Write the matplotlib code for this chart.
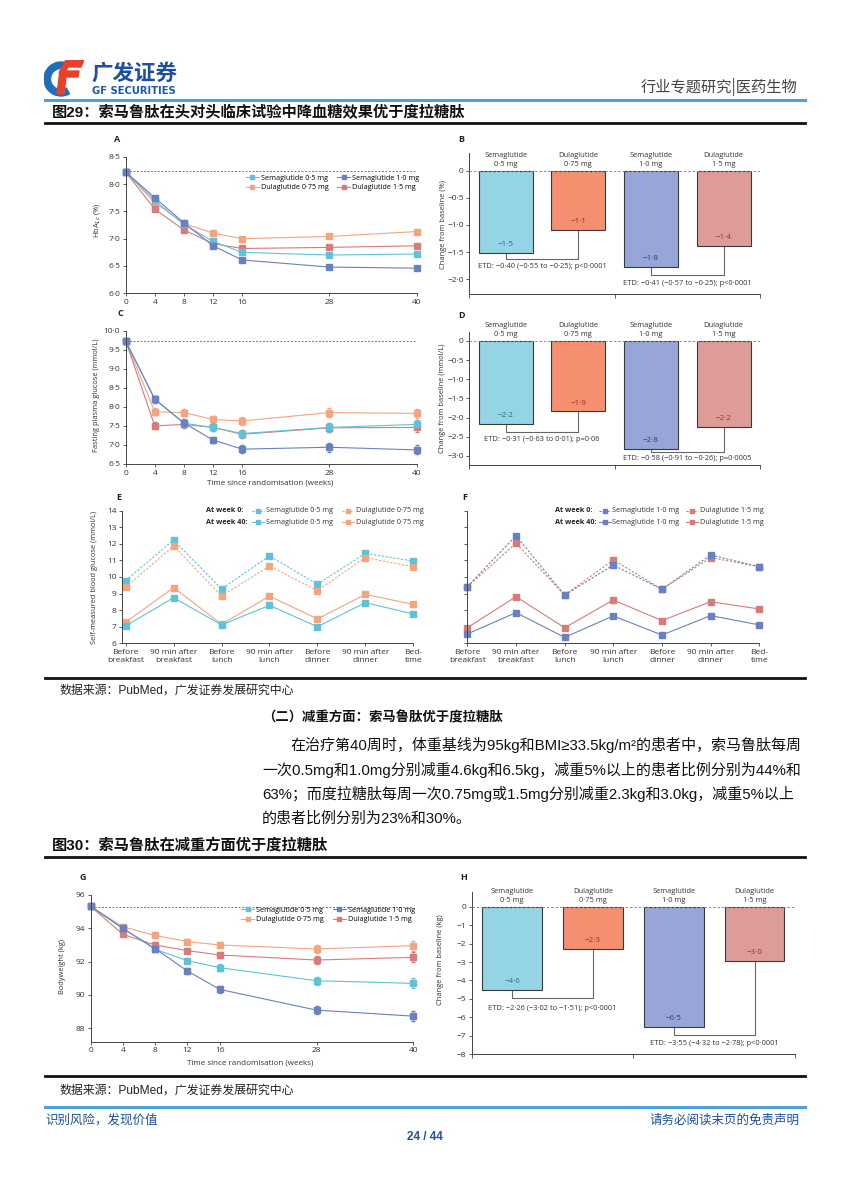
import matplotlib
matplotlib.use("Agg")
import matplotlib.pyplot as plt
from matplotlib.lines import Line2D
from matplotlib.patches import Wedge, Polygon
import numpy as np

W, H = 849, 1200

# ---------------- data ----------------
weeks = [0, 4, 8, 12, 16, 28, 40]

# A: HbA1c (%)
a_sema05 = [8.22, 7.70, 7.26, 6.95, 6.75, 6.70, 6.72]
a_dula075 = [8.22, 7.66, 7.28, 7.10, 7.00, 7.04, 7.13]
a_sema10 = [8.22, 7.75, 7.29, 6.87, 6.61, 6.48, 6.46]
a_dula15 = [8.22, 7.54, 7.16, 6.91, 6.82, 6.84, 6.87]
a_base = 8.24

# C: fasting plasma glucose (mmol/L)
c_sema05 = [9.73, 8.20, 7.57, 7.46, 7.30, 7.46, 7.54]
c_dula075 = [9.73, 7.87, 7.85, 7.67, 7.63, 7.85, 7.83]
c_sema10 = [9.73, 8.20, 7.58, 7.13, 6.89, 6.94, 6.87]
c_dula15 = [9.73, 7.50, 7.54, 7.46, 7.28, 7.45, 7.46]
c_err = [0, 0.09, 0.10, 0.09, 0.10, 0.12, 0.12]
c_base = 9.73

# G: bodyweight (kg)
g_sema05 = [95.3, 93.98, 92.73, 92.05, 91.63, 90.85, 90.69]
g_dula075 = [95.3, 94.08, 93.56, 93.19, 92.99, 92.75, 92.95]
g_sema10 = [95.3, 93.98, 92.77, 91.43, 90.33, 89.09, 88.73]
g_dula15 = [95.3, 93.62, 92.99, 92.65, 92.39, 92.09, 92.25]
g_err = [0, 0.12, 0.15, 0.16, 0.2, 0.25, 0.3]
g_base = 95.28

# bar panels
groups = ["Semaglutide\n0·5 mg", "Dulaglutide\n0·75 mg", "Semaglutide\n1·0 mg", "Dulaglutide\n1·5 mg"]
b_values = [-1.52, -1.10, -1.78, -1.38]
b_labels = ["−1·5", "−1·1", "−1·8", "−1·4"]
b_etd = ["ETD: −0·40 (−0·55 to −0·25); p<0·0001", "ETD: −0·41 (−0·57 to −0·25); p<0·0001"]

d_values = [-2.17, -1.84, -2.83, -2.25]
d_labels = ["−2·2", "−1·9", "−2·8", "−2·2"]
d_etd = ["ETD: −0·31 (−0·63 to 0·01); p=0·06", "ETD: −0·58 (−0·91 to −0·26); p=0·0005"]

h_values = [-4.52, -2.31, -6.50, -2.96]
h_labels = ["−4·6", "−2·3", "−6·5", "−3·0"]
h_etd = ["ETD: −2·26 (−3·02 to −1·51); p<0·0001", "ETD: −3·55 (−4·32 to −2·78); p<0·0001"]

# E / F: self-measured blood glucose profile
slots = ["Before\nbreakfast", "90 min after\nbreakfast", "Before\nlunch", "90 min after\nlunch",
         "Before\ndinner", "90 min after\ndinner", "Bed-\ntime"]
e_sema05_w0 = [9.78, 12.23, 9.28, 11.27, 9.56, 11.43, 10.96]
e_dula075_w0 = [9.38, 11.87, 8.85, 10.66, 9.18, 11.17, 10.62]
e_sema05_w40 = [7.05, 8.75, 7.11, 8.29, 7.00, 8.45, 7.77]
e_dula075_w40 = [7.27, 9.36, 7.15, 8.85, 7.47, 8.95, 8.35]
f_sema10_w0 = [9.42, 12.49, 8.91, 10.72, 9.26, 11.33, 10.62]
f_dula15_w0 = [9.42, 12.03, 8.91, 11.03, 9.26, 11.17, 10.62]
f_sema10_w40 = [6.56, 7.85, 6.36, 7.65, 6.50, 7.67, 7.11]
f_dula15_w40 = [6.94, 8.81, 6.94, 8.61, 7.37, 8.51, 8.07]

# ---------------- styles ----------------
SEMA05 = "#5fc2d9"
DULA075 = "#f4a47f"
SEMA10 = "#6b80c0"
DULA15 = "#d97a7b"
BAR_COLORS = ["#94d4e4", "#f68f6f", "#97a6d6", "#dd9c98"]
BAR_TXT = ["#2d6a7e", "#8e3320", "#2e3c73", "#8c3535"]
AXC = "#444444"
CJK = ["Noto Sans CJK SC", "DejaVu Sans"]
MIXED = ["Liberation Sans", "Noto Sans CJK SC", "DejaVu Sans"]

plt.rcParams["font.family"] = ["Open Sans", "DejaVu Sans"]

fig = plt.figure(figsize=(W / 100, H / 100), dpi=100)


def px_axes(x0, y0, x1, y1):
    return fig.add_axes([x0 / W, 1 - y1 / H, (x1 - x0) / W, (y1 - y0) / H])


def ftext(x, y, s, **kw):
    fig.text(x / W, 1 - y / H, s, **kw)


def hline(y, x0, x1, color, lw):
    fig.add_artist(Line2D([x0 / W, x1 / W], [1 - y / H, 1 - y / H], color=color, lw=lw))


def style_axes(ax):
    for s in ("top", "right"):
        ax.spines[s].set_visible(False)
    for s in ("left", "bottom"):
        ax.spines[s].set_color(AXC)
        ax.spines[s].set_linewidth(0.7)
    ax.tick_params(length=2.5, width=0.6, color=AXC, labelsize=6, labelcolor="#333", pad=1.5)
    ax.patch.set_visible(False)


def fmt(v, nd):
    if v == 0:
        return "0"
    s = f"{v:.{nd}f}".replace(".", "·")
    return s.replace("-", "−")


def line_panel(ax, series, ylim, yticks, nd, base, err=None, legend_anchor=None):
    for vals, color in series:
        ax.errorbar(weeks, vals, yerr=err, color=color, marker="s", ms=4, lw=0.8,
                    elinewidth=0.6, capsize=1.6, ecolor=color)
    for art in ax.get_children():
        art.set_clip_on(False)
    ax.axhline(base, color="#777", lw=0.7, ls=(0, (2, 1.6)), zorder=0)
    ax.set_xlim(0, 40)
    ax.set_ylim(*ylim)
    ax.set_xticks(weeks)
    ax.set_yticks(yticks)
    ax.set_yticklabels([f"{v:.{nd}f}".replace(".", "·") for v in yticks])
    style_axes(ax)
    if legend_anchor is not None:
        names = ["Semaglutide 0·5 mg", "Dulaglutide 0·75 mg", "Semaglutide 1·0 mg", "Dulaglutide 1·5 mg"]
        cols = [SEMA05, DULA075, SEMA10, DULA15]
        handles = [Line2D([], [], color=c, marker="s", ms=3.5, lw=0.8) for c in cols]
        ax.legend(handles, names, ncol=2, loc="upper right", bbox_to_anchor=legend_anchor,
                  frameon=False, fontsize=5.2, handlelength=1.8, handletextpad=0.3,
                  columnspacing=1.2, labelspacing=0.35, borderpad=0, borderaxespad=0)


def bar_panel(ax, values, labels, etd, ylim, yticks, nd, bracket_y, etd_y):
    x = np.arange(len(values))
    ax.bar(x, values, width=0.74, color=BAR_COLORS, edgecolor="#3a3a3a", lw=0.8, zorder=2)
    ax.axhline(0, color="#888", lw=0.7, ls=(0, (2.5, 2)), zorder=3)
    ax.set_xlim(-0.5, 3.5)
    ax.set_ylim(*ylim)
    ax.set_xticks([-0.5, 1.5, 3.5])
    ax.set_xticklabels([])
    ax.set_yticks(yticks)
    ax.set_yticklabels([fmt(v, nd) for v in yticks])
    for xi, v, lab, lc in zip(x, values, labels, BAR_TXT):
        ax.annotate(lab, (xi, v), xytext=(0, 6), textcoords="offset points",
                    ha="center", va="center", fontsize=5.8, color=lc)
    for xi, g in zip(x, groups):
        ax.annotate(g, (xi, 0), xytext=(0, 2), textcoords="offset points",
                    ha="center", va="bottom", fontsize=5.4, color="#333", linespacing=1.35)
    for k, (by, ty, t) in enumerate(zip(bracket_y, etd_y, etd)):
        i, j = 2 * k, 2 * k + 1
        ax.plot([i, i, j, j], [values[i], by, by, values[j]], color="#666", lw=0.8, zorder=1)
        ax.text((i + j) / 2, ty, t, ha="center", va="center", fontsize=5.4, color="#333")
    style_axes(ax)
    ax.tick_params(axis="x", length=3)


def glucose_panel(ax, series, xlim, show_labels):
    xs = np.arange(len(slots))
    for vals, color, ls in series:
        ax.plot(xs, vals, color=color, ls=ls, marker="s", ms=4.2, lw=0.8, clip_on=False)
    ax.set_xlim(*xlim)
    ax.set_ylim(6, 14)
    ax.set_yticks(range(6, 15))
    ax.set_xticks(xs)
    ax.set_xticklabels(slots, linespacing=1.3)
    if not show_labels:
        ax.set_yticklabels([])
    style_axes(ax)


def week_legend(x_title, x_h1, x_h2, entries):
    for ry, c1, l1, c2, l2, ls, title in entries:
        ftext(x_title, ry, title, fontsize=5.2, fontweight="bold", va="center", color="#222")
        for xh, c, lab in ((x_h1, c1, l1), (x_h2, c2, l2)):
            xx = [xh / W, (xh + 6) / W, (xh + 12) / W]
            yy = [1 - ry / H] * 3
            fig.add_artist(Line2D(xx, yy, color=c, ls=ls, lw=0.8, marker="s", ms=3.3, markevery=[1]))
            ftext(xh + 13.5, ry, lab, fontsize=5.2, va="center", color="#333")


def panel_letter(x, y, s):
    ftext(x, y, s, fontsize=6.5, fontweight="bold", va="center", ha="left", color="#222")


def ylab(x, y, s):
    ftext(x, y, s, fontsize=5.4, rotation=90, ha="center", va="center", color="#333")


# ---------------- page header ----------------
logo = px_axes(44, 60, 84, 97)
logo.set_xlim(0, 40)
logo.set_ylim(0, 37)
logo.axis("off")
logo.add_patch(Wedge((17, 18), 17, 75, 300, width=6.5, color="#1f6fb8"))
logo.add_patch(Polygon([[15, 24], [22, 37], [40, 37], [37, 30], [24, 30], [21, 24]], color="#e8402a"))
logo.add_patch(Polygon([[13, 3], [20, 3], [22, 20], [34, 20], [35, 26], [16, 26]], color="#e8402a"))

ftext(91, 73, "广发证券", fontsize=15.5, fontweight="bold", family=CJK, va="center", color="#1d4f9c")
ftext(92, 91, "GF SECURITIES", fontsize=7.2, fontweight="bold", family=["DejaVu Sans"], va="center", color="#1d5aa6")
ftext(797, 87, "行业专题研究|医药生物", fontsize=11, family=CJK, ha="right", va="center", color="#444")
hline(100, 45, 805, "#4da3d9", 2.2)
ftext(52, 112, "图29：索马鲁肽在头对头临床试验中降血糖效果优于度拉糖肽", fontsize=11,
      fontweight="bold", family=MIXED, va="center", color="#111")
hline(123, 45, 805, "#111", 2)

# ---------------- panel A ----------------
axA = px_axes(125.7, 156.7, 416.7, 293.3)
line_panel(axA, [(a_dula075, DULA075), (a_dula15, DULA15), (a_sema05, SEMA05), (a_sema10, SEMA10)],
           (6.0, 8.5), [6.0, 6.5, 7.0, 7.5, 8.0, 8.5], 1, a_base, legend_anchor=(1.01, 0.87))
panel_letter(114, 139, "A")
ylab(97, 220, "HbA$_{1c}$ (%)")

# ---------------- panel B ----------------
axB = px_axes(469.3, 153, 760, 294)
bar_panel(axB, b_values, b_labels, b_etd, (-2.275, 0.327), [0, -0.5, -1.0, -1.5, -2.0], 1,
          [-1.62, -1.93], [-1.76, -2.08])
panel_letter(458, 139, "B")
ylab(443, 225, "Change from baseline (%)")

# ---------------- panel C ----------------
axC = px_axes(125.7, 330.7, 416.7, 464)
line_panel(axC, [(c_dula075, DULA075), (c_dula15, DULA15), (c_sema05, SEMA05), (c_sema10, SEMA10)],
           (6.5, 10.0), [6.5, 7.0, 7.5, 8.0, 8.5, 9.0, 9.5, 10.0], 1, c_base, err=c_err)
panel_letter(118, 314, "C")
ylab(96, 395, "Fasting plasma glucose (mmol/L)")
ftext(270, 483, "Time since randomisation (weeks)", fontsize=5.8, ha="center", va="center", color="#333")

# ---------------- panel D ----------------
axD = px_axes(469.3, 331.7, 760, 465)
bar_panel(axD, d_values, d_labels, d_etd, (-3.24, 0.243), [0, -0.5, -1.0, -1.5, -2.0, -2.5, -3.0], 1,
          [-2.39, -2.91], [-2.58, -3.06])
panel_letter(458, 316, "D")
ylab(442, 398, "Change from baseline (mmol/L)")

# ---------------- panel E ----------------
axE = px_axes(122.3, 510.7, 413.3, 643.3)
glucose_panel(axE, [(e_sema05_w0, SEMA05, (0, (2, 1.5))), (e_dula075_w0, DULA075, (0, (2, 1.5))),
                    (e_dula075_w40, DULA075, "-"), (e_sema05_w40, SEMA05, "-")], (-0.07, 6.0), True)
panel_letter(116, 497, "E")
ylab(95, 577, "Self-measured blood glucose (mmol/L)")
week_legend(206, 252, 342, [
    (511, SEMA05, "Semaglutide 0·5 mg", DULA075, "Dulaglutide 0·75 mg", (0, (2, 1.5)), "At week 0:"),
    (522, SEMA05, "Semaglutide 0·5 mg", DULA075, "Dulaglutide 0·75 mg", "-", "At week 40:"),
])

# ---------------- panel F ----------------
axF = px_axes(467.3, 510.7, 759.3, 643.3)
glucose_panel(axF, [(f_dula15_w0, DULA15, (0, (2, 1.5))), (f_sema10_w0, SEMA10, (0, (2, 1.5))),
                    (f_dula15_w40, DULA15, "-"), (f_sema10_w40, SEMA10, "-")], (0, 6.0), False)
panel_letter(462, 498, "F")
week_legend(555, 599, 686, [
    (511, SEMA10, "Semaglutide 1·0 mg", DULA15, "Dulaglutide 1·5 mg", (0, (2, 1.5)), "At week 0:"),
    (522, SEMA10, "Semaglutide 1·0 mg", DULA15, "Dulaglutide 1·5 mg", "-", "At week 40:"),
])

hline(678, 45, 805, "#111", 2)
ftext(60, 691, "数据来源：PubMed，广发证券发展研究中心", fontsize=8.6, family=MIXED, va="center", color="#222")

# ---------------- text block ----------------
ftext(262, 717, "（二）减重方面：索马鲁肽优于度拉糖肽", fontsize=9.6, fontweight="bold", family=CJK,
      va="center", color="#111")
para = [
    (290, "在治疗第40周时，体重基线为95kg和BMI≥33.5kg/m²的患者中，索马鲁肽每周"),
    (262, "一次0.5mg和1.0mg分别减重4.6kg和6.5kg，减重5%以上的患者比例分别为44%和"),
    (262, "63%；而度拉糖肽每周一次0.75mg或1.5mg分别减重2.3kg和3.0kg，减重5%以上"),
    (262, "的患者比例分别为23%和30%。"),
]
for k, (x0, line) in enumerate(para):
    ftext(x0, 745 + 24.5 * k, line, fontsize=10.8, family=MIXED, va="center", color="#111")

ftext(52, 845, "图30：索马鲁肽在减重方面优于度拉糖肽", fontsize=11, fontweight="bold", family=MIXED,
      va="center", color="#111")
hline(857, 45, 805, "#111", 2)

# ---------------- panel G ----------------
axG = px_axes(90.7, 894.7, 413.3, 1041.7)
line_panel(axG, [(g_dula075, DULA075), (g_dula15, DULA15), (g_sema05, SEMA05), (g_sema10, SEMA10)],
           (87.2, 96.0), [88, 90, 92, 94, 96], 0, g_base, err=g_err, legend_anchor=(1.005, 0.92))
panel_letter(80, 877, "G")
ylab(62, 967, "Bodyweight (kg)")
ftext(250, 1063, "Time since randomisation (weeks)", fontsize=5.8, ha="center", va="center", color="#333")

# ---------------- panel H ----------------
axH = px_axes(471.7, 891.7, 795, 1054.3)
bar_panel(axH, h_values, h_labels, h_etd, (-8, 0.81), [0, -1, -2, -3, -4, -5, -6, -7, -8], 0,
          [-4.97, -6.95], [-5.5, -7.4])
panel_letter(460, 877, "H")
ylab(440, 960, "Change from baseline (kg)")

# ---------------- footer ----------------
hline(1076, 45, 805, "#111", 2)
ftext(60, 1091, "数据来源：PubMed，广发证券发展研究中心", fontsize=8.6, family=MIXED, va="center", color="#222")
hline(1107, 45, 805, "#4da3d9", 2.2)
ftext(45, 1120, "识别风险，发现价值", fontsize=9, family=CJK, va="center", color="#1d4f9c")
ftext(800, 1120, "请务必阅读末页的免责声明", fontsize=9, family=CJK, ha="right", va="center", color="#1d4f9c")
ftext(424.5, 1137, "24 / 44", fontsize=8.5, fontweight="bold", family=["Liberation Sans"],
      ha="center", va="center", color="#1d4f9c")

fig.savefig("out.png", dpi=100)
